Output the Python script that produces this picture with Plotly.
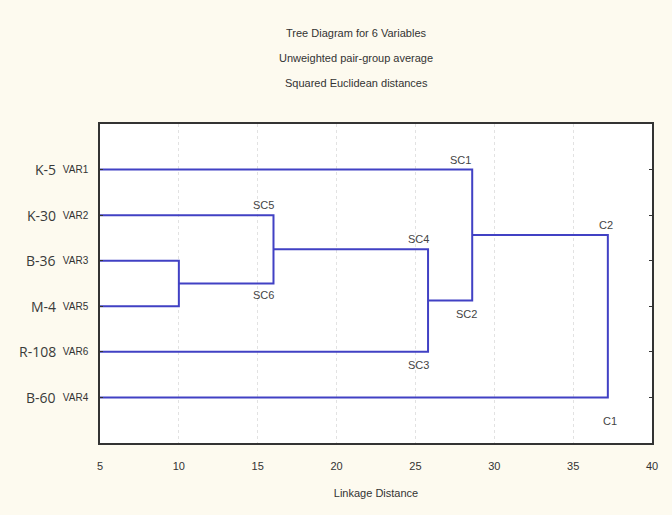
import plotly.graph_objects as go

# ---- data ----
leaf_vars = ["VAR1", "VAR2", "VAR3", "VAR5", "VAR6", "VAR4"]
leaf_names = ["K-5", "K-30", "B-36", "M-4", "R-108", "B-60"]
# merges: (left child, right child, linkage distance); children: leaf index or ("n", k)
merge_left = [2, 1, ("n", 1), 0, ("n", 3)]
merge_right = [3, ("n", 0), 4, ("n", 2), 5]
merge_dist = [10.0, 16.0, 25.8, 28.6, 37.2]
merge_upper_lbl = ["", "SC5", "SC4", "SC1", "C2"]
merge_lower_lbl = ["", "SC6", "SC3", "SC2", "C1"]
x_ticks = [5, 10, 15, 20, 25, 30, 35, 40]
titles = ["Tree Diagram for 6 Variables", "Unweighted pair-group average",
          "Squared Euclidean distances"]

# ---- style ----
LINE = "#4141c4"
BG = "#fdfaef"
X0 = 5
W, H = 672, 515
mt, mb, ml, mr = 124, 72, 100, 20
LBL_FONT = dict(size=11, color="#444", family="Liberation Sans Narrow, Arial")
# (xshift, yshift) pixel nudges for node labels
upper_shift = {"SC5": (-10, 2), "SC4": (-10, 2), "SC1": (-12, 2), "C2": (-2, 2)}
lower_shift = {"SC6": (-10, -3), "SC3": (-10, -5), "SC2": (-6, -5), "C1": (2, -16)}


def pos(c, nodes):
    if isinstance(c, tuple):
        return nodes[c[1]]
    return (X0, c + 1)


fig = go.Figure()
nodes = []
for i, (l, r, d) in enumerate(zip(merge_left, merge_right, merge_dist)):
    lx, ly = pos(l, nodes)
    rx, ry = pos(r, nodes)
    fig.add_trace(go.Scatter(x=[lx, d, d, rx], y=[ly, ly, ry, ry], mode="lines",
                             line=dict(color=LINE, width=2), hoverinfo="skip",
                             showlegend=False))
    nodes.append((d, (ly + ry) / 2))
    if merge_upper_lbl[i]:
        ux, uy = upper_shift[merge_upper_lbl[i]]
        fig.add_annotation(x=d, y=ly, text=merge_upper_lbl[i], showarrow=False,
                           xanchor="center", yanchor="bottom", xshift=ux, yshift=uy,
                           font=LBL_FONT)
        lx2, ly2 = lower_shift[merge_lower_lbl[i]]
        fig.add_annotation(x=d, y=ry, text=merge_lower_lbl[i], showarrow=False,
                           xanchor="center", yanchor="top", xshift=lx2, yshift=ly2,
                           font=LBL_FONT)

pw = W - ml - mr
ph = H - mt - mb
for i, name in enumerate(leaf_names):
    fig.add_annotation(x=(58 - ml) / pw, xref="paper", y=i + 1, yref="y", text=name,
                       showarrow=False, xanchor="right",
                       font=dict(size=14, color="#3a3a3a", family="Open Sans, Arial"))

for k, t in enumerate(titles):
    fig.add_annotation(x=(356 - ml) / pw, xref="paper", y=1 + (mt - (33 + 25 * k)) / ph,
                       yref="paper", yanchor="middle", text=t, showarrow=False,
                       font=dict(size=11, color="#333",
                                 family="Liberation Sans Narrow, Arial"))

fig.update_layout(
    width=W, height=H,
    margin=dict(l=ml, r=mr, t=mt, b=mb),
    paper_bgcolor=BG, plot_bgcolor="white",
    font=dict(family="Liberation Sans Narrow, Arial", size=11, color="#333"),
    xaxis=dict(range=[5, 40], tickvals=x_ticks, ticks="", showline=True, mirror=True,
               linecolor="#333", linewidth=1.5, showgrid=True, gridcolor="#e2e2e2",
               griddash="dot", zeroline=False, ticklabelstandoff=12,
               title=dict(text="Linkage Distance", standoff=18,
                          font=dict(size=11, color="#333"))),
    yaxis=dict(range=[7, 0], tickvals=list(range(1, 7)), ticktext=leaf_vars,
               ticks="inside", ticklen=3, tickcolor="#333", showline=True,
               mirror="ticks", linecolor="#333", linewidth=1.5,
               showgrid=False, zeroline=False, ticklabelstandoff=8,
               tickfont=dict(size=10, color="#333")),
)

fig.write_html("out.html", config={"displayModeBar": False},
               post_script="document.body.style.margin='0';"
                           "document.body.style.background='" + BG + "';")
